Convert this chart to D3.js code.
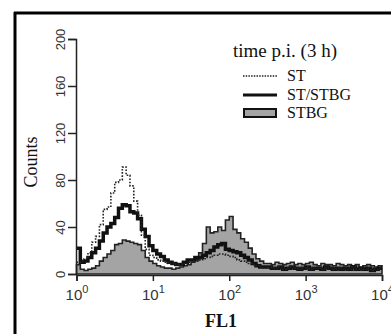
<!DOCTYPE html>
<html lang="en">
<head>
    <meta charset="UTF-8">
    <title>FL1 histogram</title>
    <style>
        body { margin: 0; padding: 0; background: #fff; }
        svg { display: block; }
        .tick text { font-family: "Liberation Sans", Arial, sans-serif; fill: #333; }
        .serif { font-family: "Liberation Serif", "Times New Roman", serif; fill: #111; }
    </style>
    <script src="https://cdn.jsdelivr.net/npm/d3@7/dist/d3.min.js"></script>
</head>
<body>
<svg id="chart" width="391" height="334"></svg>
<script>
    // channel bins: log10 step of 0.05 from 10^0 to 10^4 (80 bins)
    const binStep = 0.05;
    const seriesNames = ['ST', 'ST/STBG', 'STBG'];

    const stCounts = [
        10, 11, 13, 18, 27, 32, 42, 55, 57, 69,
        78, 80, 91, 84, 75, 62, 50, 33, 21, 16,
        14, 12, 11, 10, 9, 9, 8, 8, 9, 10,
        10, 11, 12, 13, 14, 15, 16, 17, 17, 16,
        15, 14, 12, 11, 10, 9, 8, 7, 6, 5,
        6, 5, 5, 6, 4, 5, 6, 5, 4, 5,
        6, 4, 5, 5, 4, 6, 5, 4, 5, 4,
        5, 4, 6, 4, 5, 4, 5, 3, 4, 5
    ];
    const mixCounts = [
        22, 10, 11, 14, 18, 22, 28, 35, 40, 43,
        48, 56, 59, 58, 53, 52, 47, 38, 32, 24,
        20, 17, 15, 12, 10, 9, 8, 8, 10, 12,
        12, 14, 14, 16, 18, 20, 23, 25, 26, 21,
        20, 19, 18, 16, 14, 12, 9, 7, 6, 6,
        6, 5, 5, 6, 4, 5, 6, 5, 4, 5,
        6, 4, 5, 5, 4, 6, 5, 4, 5, 4,
        5, 4, 6, 4, 5, 4, 5, 3, 4, 5
    ];
    const stbgCounts = [
        8, 4, 3, 4, 5, 7, 11, 14, 17, 20,
        25, 26, 29, 28, 27, 26, 25, 20, 14, 11,
        9, 7, 6, 5, 5, 4, 5, 6, 7, 8,
        10, 12, 18, 26, 40, 35, 36, 40, 37, 46,
        49, 38, 35, 30, 27, 22, 17, 13, 11, 9,
        9, 8, 10, 9, 8, 9, 10, 8, 9, 8,
        9, 10, 8, 7, 9, 8, 8, 7, 9, 8,
        7, 8, 7, 8, 6, 7, 8, 7, 6, 7
    ];

    const yMajor = [0, 40, 80, 120, 160, 200];
    const xMajor = [1, 10, 100, 1000, 10000];
    const xExponents = ['0', '1', '2', '3', '4'];

    const svg = d3.select('#chart');

    // frame (only top and left edges show)
    svg.append('line').attr('x1', 15).attr('x2', 15).attr('y1', 12).attr('y2', 334)
        .attr('stroke', '#000').attr('stroke-width', 3);
    svg.append('line').attr('x1', 14).attr('x2', 391).attr('y1', 13).attr('y2', 13)
        .attr('stroke', '#000').attr('stroke-width', 3);

    const x = d3.scaleLog().domain([1, 1e4]).range([76.5, 382]);
    const y = d3.scaleLinear().domain([0, 200]).range([274, 39]);

    function toBins(counts) {
        const pts = counts.map((c, i) => ({ v: Math.pow(10, i * binStep), c: c }));
        pts.push({ v: 1e4, c: counts[counts.length - 1] });
        return pts;
    }

    const area = d3.area()
        .x(d => x(d.v))
        .y0(y(0))
        .y1(d => y(d.c))
        .curve(d3.curveStepAfter);
    const line = d3.line()
        .x(d => x(d.v))
        .y(d => y(d.c))
        .curve(d3.curveStepAfter);

    const plot = svg.append('g');
    plot.append('path').datum(toBins(stbgCounts))
        .attr('d', area)
        .attr('fill', '#a4a4a4')
        .attr('stroke', '#222')
        .attr('stroke-width', 1.6);
    plot.append('path').datum(toBins(mixCounts))
        .attr('d', line)
        .attr('fill', 'none')
        .attr('stroke', '#111')
        .attr('stroke-width', 3.5);
    plot.append('path').datum(toBins(stCounts))
        .attr('d', line)
        .attr('fill', 'none')
        .attr('stroke', '#222')
        .attr('stroke-width', 1.6)
        .attr('stroke-dasharray', '1.6,1.6');

    // y axis
    const yMinor = d3.range(0, 201, 8).filter(v => v % 40 !== 0);
    const yAxisG = svg.append('g').attr('transform', 'translate(76,0)');
    yAxisG.call(d3.axisLeft(y).tickValues(yMinor).tickSize(4).tickFormat(''));
    yAxisG.call(d3.axisLeft(y).tickValues(yMajor).tickSize(8).tickFormat(d3.format('d')));
    yAxisG.selectAll('.tick text')
        .attr('x', 0).attr('y', -11).attr('dy', 0)
        .attr('text-anchor', 'middle')
        .attr('transform', 'rotate(-90)')
        .style('font-size', '13px');
    yAxisG.selectAll('path, line').attr('stroke', '#222').attr('stroke-width', 1.5);

    // x axis
    const xMinor = [];
    xMajor.slice(0, -1).forEach(d => { for (let k = 2; k < 10; k++) xMinor.push(d * k); });
    const xAxisG = svg.append('g').attr('transform', 'translate(0,275)');
    xAxisG.call(d3.axisBottom(x).tickValues(xMinor).tickSize(4).tickFormat(''));
    xAxisG.call(d3.axisBottom(x).tickValues(xMajor).tickSize(6).tickFormat(''));
    xAxisG.selectAll('path, line').attr('stroke', '#222').attr('stroke-width', 1.5);
    xAxisG.selectAll('.tick').filter(d => xMajor.includes(d))
        .append('text')
        .attr('y', 25)
        .attr('text-anchor', 'middle')
        .style('font-size', '15px')
        .each(function(d) {
            const t = d3.select(this);
            t.append('tspan').text('10');
            t.append('tspan').attr('dy', -7).style('font-size', '11px')
                .text(xExponents[xMajor.indexOf(d)]);
        });

    // axis titles
    svg.append('text').attr('class', 'serif')
        .attr('transform', 'translate(37,162) rotate(-90)')
        .attr('text-anchor', 'middle')
        .style('font-size', '18px')
        .text('Counts');
    svg.append('text').attr('class', 'serif')
        .attr('x', 221).attr('y', 327)
        .attr('text-anchor', 'middle')
        .style('font-size', '18px').style('font-weight', 'bold')
        .text('FL1');

    // legend
    const legend = svg.append('g').attr('class', 'serif');
    legend.append('text').attr('x', 233).attr('y', 57)
        .style('font-size', '19px').text('time p.i. (3 h)');
    const rowY = [76, 95, 113];
    legend.append('line').attr('x1', 243).attr('x2', 277).attr('y1', rowY[0]).attr('y2', rowY[0])
        .attr('stroke', '#222').attr('stroke-width', 1.5).attr('stroke-dasharray', '1.5,1.2');
    legend.append('line').attr('x1', 243).attr('x2', 277).attr('y1', rowY[1]).attr('y2', rowY[1])
        .attr('stroke', '#111').attr('stroke-width', 3);
    legend.append('rect').attr('x', 244).attr('y', rowY[2] - 4).attr('width', 32).attr('height', 8)
        .attr('fill', '#a4a4a4').attr('stroke', '#111').attr('stroke-width', 2);
    seriesNames.forEach((name, i) => {
        legend.append('text').attr('x', 287).attr('y', rowY[i] + 5)
            .style('font-size', '16px').text(name);
    });
</script>
</body>
</html>
